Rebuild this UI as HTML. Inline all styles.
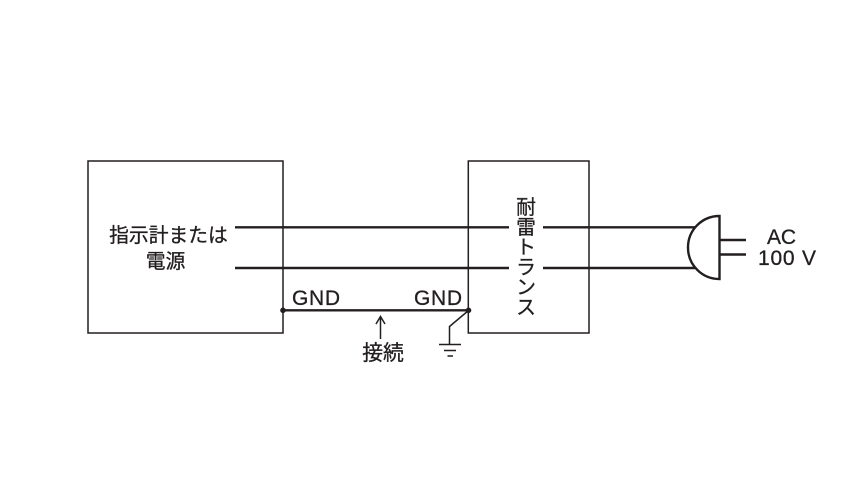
<!DOCTYPE html>
<html><head><meta charset="utf-8">
<style>
html,body{margin:0;padding:0;background:#fff}
svg{display:block}
text{fill:#231f20;stroke:#231f20;stroke-width:.3;font-family:"Liberation Sans","Noto Sans CJK JP",sans-serif}
.j{font-family:"Noto Sans CJK JP","Liberation Sans",sans-serif;font-size:19.8px}
.l{font-size:21px}
</style></head><body>
<svg width="864" height="486" viewBox="0 0 864 486" xmlns="http://www.w3.org/2000/svg">
<g fill="none" stroke="#231f20" stroke-width="1.5">
<rect x="88" y="161" width="195" height="172"/>
<rect x="468.3" y="161" width="120.7" height="172"/>
<path d="M468.5 310.5 L449.5 326.5 V344.5"/>
<path d="M439 344.5 H461 M444 350.5 H456 M447.5 356 H453"/>
<path d="M380.5 339 V317 M376 324 L380.5 316.5 L385 324"/>
</g>
<g fill="none" stroke="#231f20" stroke-width="2.4">
<path d="M235 227.3 H509 M543 227.3 H695"/>
<path d="M235 268 H509 M543 268 H695"/>
<path d="M283 310.3 H468"/>
<path d="M719.5 216 V279 C702 279 688 265 688 247.5 C688 230 702 216 719.5 216 Z"/>
<path d="M719.5 240 H746 M719.5 254.5 H746"/>
</g>
<circle cx="283" cy="310.3" r="2.8" fill="#231f20"/>
<circle cx="468.5" cy="310.3" r="2.8" fill="#231f20"/>
<text class="j" x="168.5" y="242" text-anchor="middle">指示計または</text>
<text class="j" x="165.5" y="268" text-anchor="middle">電源</text>
<text class="j" x="383" y="360" text-anchor="middle" style="font-size:20.8px">接続</text>
<text class="j" x="526" y="214" text-anchor="middle">耐</text>
<text class="j" x="526" y="234" text-anchor="middle">雷</text>
<text class="j" x="526" y="254" text-anchor="middle">ト</text>
<text class="j" x="526" y="274" text-anchor="middle">ラ</text>
<text class="j" x="526" y="294" text-anchor="middle">ン</text>
<text class="j" x="526" y="314" text-anchor="middle">ス</text>
<text class="l" x="292" y="305" textLength="48">GND</text>
<text class="l" x="414" y="305" textLength="48">GND</text>
<text class="l" x="767" y="244" textLength="29">AC</text>
<text class="l" x="758" y="265" textLength="58">100 V</text>
</svg>
</body></html>
